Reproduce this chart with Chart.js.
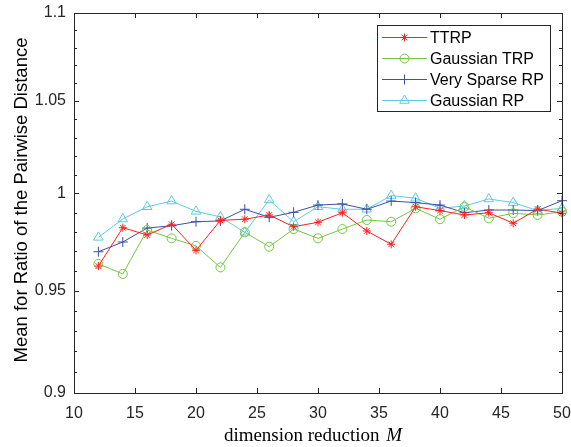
<!DOCTYPE html>
<html>
<head>
<meta charset="utf-8">
<script src="https://cdn.jsdelivr.net/npm/chart.js"></script>
<style>
  html, body { margin: 0; padding: 0; background: #fff; }
  canvas { display: block; }
</style>
</head>
<body>
<canvas id="myChart" width="571" height="447"></canvas>
<script>
// valeurs de M (axe x)
var dimensions = [12, 14, 16, 18, 20, 22, 24, 26, 28, 30, 32, 34, 36, 38, 40, 42, 44, 46, 48, 50];

// moyennes du ratio des distances, une liste par méthode
var ttrp = [0.9624, 0.9821, 0.9783, 0.9839, 0.9704, 0.9859, 0.9865, 0.9887, 0.9826, 0.9849,
            0.9899, 0.9804, 0.9735, 0.9930, 0.9910, 0.9887, 0.9899, 0.9844, 0.9918, 0.9896];
var gaussianTrp = [0.9635, 0.9584, 0.9809, 0.9766, 0.9727, 0.9617, 0.9797, 0.9723, 0.9814, 0.9766,
                   0.9814, 0.9861, 0.9852, 0.9922, 0.9865, 0.9930, 0.9870, 0.9896, 0.9887, 0.9904];
var verySparseRp = [0.9697, 0.9747, 0.9819, 0.9831, 0.9852, 0.9856, 0.9917, 0.9875, 0.9901, 0.9939,
                    0.9945, 0.9917, 0.9960, 0.9952, 0.9939, 0.9899, 0.9913, 0.9913, 0.9910, 0.9962];
var gaussianRp = [0.9771, 0.9866, 0.9930, 0.9960, 0.9906, 0.9877, 0.9797, 0.9966, 0.9852, 0.9930,
                  0.9917, 0.9917, 0.9989, 0.9975, 0.9922, 0.9934, 0.9971, 0.9952, 0.9910, 0.9922];

// graduations
var xTicks = [10, 15, 20, 25, 30, 35, 40, 45, 50];
var yTicks = [0.9, 0.95, 1, 1.05, 1.1];
var yMinorTicks = [0.91, 0.92, 0.93, 0.94, 0.96, 0.97, 0.98, 0.99, 1.01, 1.02, 1.03, 1.04, 1.06, 1.07, 1.08, 1.09];

var axisColor = '#262626';
var sans = '"Liberation Sans", Arial, sans-serif';
var serif = '"Liberation Serif", "DejaVu Serif", serif';

function points(values) {
    return dimensions.map(function (m, i) { return { x: m, y: values[i] }; });
}

function serie(label, values, color, style, radius) {
    return {
        label: label,
        data: points(values),
        borderColor: color,
        backgroundColor: color,
        borderWidth: 1,
        pointStyle: style,
        pointRadius: radius,
        pointBorderColor: color,
        pointBackgroundColor: 'rgba(0,0,0,0)',
        pointBorderWidth: 1,
        tension: 0,
        clip: false
    };
}

// cadre + petites graduations vers l'intérieur (style matlab)
var cadre = {
    id: 'cadre',
    afterDraw: function (chart) {
        var ctx = chart.ctx, a = chart.chartArea;
        var x = chart.scales.x, y = chart.scales.y;
        ctx.save();
        ctx.strokeStyle = axisColor;
        ctx.lineWidth = 1;
        ctx.strokeRect(Math.round(a.left) + 0.5, Math.round(a.top) + 0.5,
                       Math.round(a.right - a.left), Math.round(a.bottom - a.top));
        ctx.beginPath();
        xTicks.forEach(function (v) {
            var px = Math.round(x.getPixelForValue(v)) + 0.5;
            ctx.moveTo(px, a.bottom); ctx.lineTo(px, a.bottom - 5);
            ctx.moveTo(px, a.top); ctx.lineTo(px, a.top + 5);
        });
        yTicks.forEach(function (v) {
            var py = Math.round(y.getPixelForValue(v)) + 0.5;
            ctx.moveTo(a.left, py); ctx.lineTo(a.left + 5, py);
            ctx.moveTo(a.right, py); ctx.lineTo(a.right - 5, py);
        });
        yMinorTicks.forEach(function (v) {
            var py = Math.round(y.getPixelForValue(v)) + 0.5;
            ctx.moveTo(a.left, py); ctx.lineTo(a.left + 3, py);
            ctx.moveTo(a.right, py); ctx.lineTo(a.right - 3, py);
        });
        ctx.stroke();

        // titres des axes
        ctx.fillStyle = '#000';
        ctx.textBaseline = 'middle';
        var cx = (a.left + a.right) / 2;
        var t1 = 'dimension reduction ';
        ctx.font = 'italic 19px ' + serif;
        var wM = ctx.measureText('M').width;
        ctx.font = '19px ' + serif;
        var w1 = ctx.measureText(t1).width;
        var sx = cx - 6 - (w1 + wM) / 2;
        ctx.textAlign = 'left';
        ctx.fillText(t1, sx, 436);
        ctx.font = 'italic 19px ' + serif;
        ctx.fillText('M', sx + w1 + 2, 436);

        ctx.save();
        ctx.translate(22, 200);
        ctx.rotate(-Math.PI / 2);
        ctx.textAlign = 'center';
        ctx.font = '18.5px ' + sans;
        ctx.fillText('Mean for Ratio of the Pairwise Distance', 0, 0);
        ctx.restore();
        ctx.restore();
    }
};

// légende dessinée à la main (ligne + marqueur)
var legende = {
    id: 'legende',
    afterDraw: function (chart) {
        var ctx = chart.ctx;
        var bx = 377, by = 25, bw = 173, bh = 86;
        ctx.save();
        ctx.fillStyle = '#fff';
        ctx.fillRect(bx, by, bw, bh);
        ctx.strokeStyle = axisColor;
        ctx.lineWidth = 1;
        ctx.strokeRect(bx + 0.5, by + 0.5, bw, bh);
        chart.data.datasets.forEach(function (ds, i) {
            var ly = by + 12.5 + i * 21;
            ctx.strokeStyle = ds.borderColor;
            ctx.beginPath();
            ctx.moveTo(382, ly); ctx.lineTo(427, ly);
            ctx.stroke();
            ctx.fillStyle = 'rgba(0,0,0,0)';
            Chart.helpers.drawPoint(ctx, {
                pointStyle: ds.pointStyle, radius: ds.pointRadius, rotation: 0, borderWidth: 1
            }, 404.5, ly);
            ctx.fillStyle = '#000';
            ctx.font = '16px ' + sans;
            ctx.textAlign = 'left';
            ctx.textBaseline = 'middle';
            ctx.fillText(ds.label, 430, ly + 1);
        });
        ctx.restore();
    }
};

var ctx = document.getElementById('myChart').getContext('2d');

var myChart = new Chart(ctx, {
    type: 'line',
    data: {
        datasets: [
            serie('TTRP', ttrp, '#ff1f1f', 'star', 4),
            serie('Gaussian TRP', gaussianTrp, '#72c843', 'circle', 4.5),
            serie('Very Sparse RP', verySparseRp, '#3d4fa8', 'cross', 5),
            serie('Gaussian RP', gaussianRp, '#5ccbe0', 'triangle', 5.5)
        ]
    },
    options: {
        responsive: false,
        animation: false,
        layout: { padding: { top: 13, right: 9, left: 0, bottom: 0 } },
        plugins: {
            legend: { display: false },
            tooltip: { enabled: false }
        },
        scales: {
            x: {
                type: 'linear',
                min: 10,
                max: 50,
                afterBuildTicks: function (scale) {
                    scale.ticks = xTicks.map(function (v) { return { value: v }; });
                },
                afterFit: function (scale) {
                    scale.height = 54;
                    scale.paddingLeft = 0;
                    scale.paddingRight = 0;
                },
                grid: { display: false, drawTicks: false },
                border: { display: false },
                ticks: { color: axisColor, font: { family: sans, size: 16 }, padding: 11, maxRotation: 0 }
            },
            y: {
                type: 'logarithmic',
                min: 0.9,
                max: 1.1,
                afterBuildTicks: function (scale) {
                    scale.ticks = yTicks.map(function (v) { return { value: v }; });
                },
                afterFit: function (scale) {
                    scale.width = 74;
                    scale.paddingTop = 0;
                    scale.paddingBottom = 0;
                },
                grid: { display: false, drawTicks: false },
                border: { display: false },
                ticks: {
                    color: axisColor,
                    font: { family: sans, size: 16 },
                    padding: 8,
                    callback: function (v) { return String(v); }
                }
            }
        }
    },
    plugins: [cadre, legende]
});
</script>
</body>
</html>
